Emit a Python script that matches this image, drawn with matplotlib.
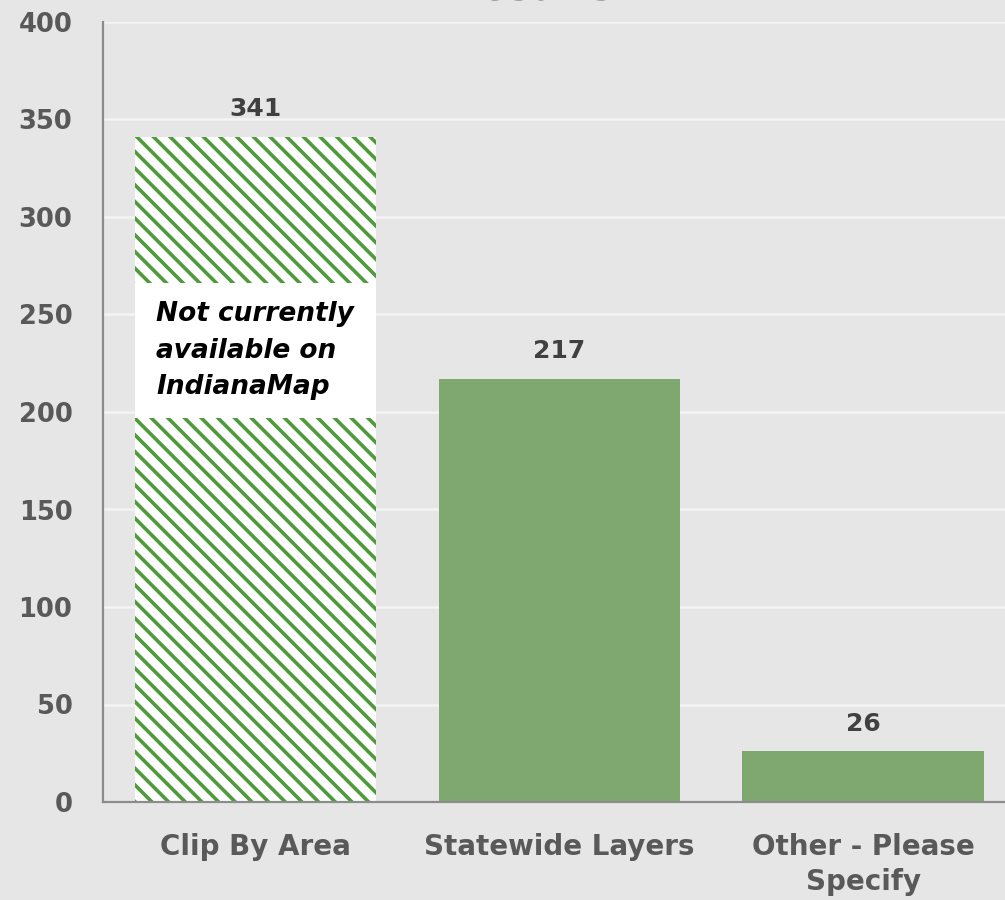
import matplotlib.pyplot as plt
from matplotlib.patches import Rectangle

# Chart data
categories = ["Clip By Area", "Statewide Layers", "Other - Please\nSpecify"]
counts = [341, 217, 26]
yticks = [0, 50, 100, 150, 200, 250, 300, 350, 400]

bg = "#e6e6e6"
bar_green = "#7fa870"
hatch_green = "#4f9a3a"
text_gray = "#595959"

plt.rcParams['font.family'] = ['DejaVu Sans']
plt.rcParams['hatch.linewidth'] = 2.6

fig = plt.figure(figsize=(10.05, 9), dpi=100, facecolor=bg)
# axes: left spine at x=103px, bottom at y=802px, top (400) at y=22px
ax = fig.add_axes([103 / 1005, 98 / 900, 912 / 1005, 780 / 900])
ax.set_facecolor(bg)

x = list(range(len(categories)))
bars = ax.bar(x, counts, width=0.795, color=bar_green, zorder=2)

# first bar is hatched
bars[0].set_facecolor("white")
bars[0].set_hatch("\\\\")
bars[0].set_edgecolor(hatch_green)
bars[0].set_linewidth(0)

# value labels
for xi, v in zip(x, counts):
    ax.text(xi, v + 8, str(v), ha="center", va="bottom", fontsize=18,
            fontweight="bold", color="#404040")

# white note box across the hatched bar
b0 = bars[0]
ax.add_patch(Rectangle((b0.get_x(), 197), b0.get_width(), 69,
                       facecolor="white", edgecolor="none", zorder=3))
ax.text(b0.get_x() + 0.07, 231.5, "Not currently\navailable on\nIndianaMap",
        ha="left", va="center", fontsize=19, fontweight="bold",
        fontstyle="italic", color="black", linespacing=1.52, zorder=4)

ax.set_xlim(-0.503, 2.5)
ax.set_ylim(0, 400)
ax.set_yticks(yticks)
ax.set_xticks(x)
ax.set_xticklabels(categories, fontsize=20, fontweight="bold", color=text_gray,
                   linespacing=1.35)
ax.tick_params(axis="y", labelsize=18.5, labelcolor=text_gray, length=0, pad=22)
ax.tick_params(axis="x", length=0, pad=22)
for lab in ax.get_yticklabels():
    lab.set_fontweight("bold")

ax.grid(axis="y", color="#f4f4f4", linewidth=1.8, zorder=0)
ax.set_axisbelow(True)
for side in ["top", "right"]:
    ax.spines[side].set_visible(False)
for side in ["left", "bottom"]:
    ax.spines[side].set_color("#8c8c8c")
    ax.spines[side].set_linewidth(1.6)
    ax.spines[side].set_zorder(5)

# title mostly cut off at the top (as in the original)
fig.text(532 / 1005, 1.0, "Results", ha="center", va="baseline",
         fontsize=28, fontweight="bold", color=text_gray)

fig.savefig("out.png", dpi=100, facecolor=bg)
